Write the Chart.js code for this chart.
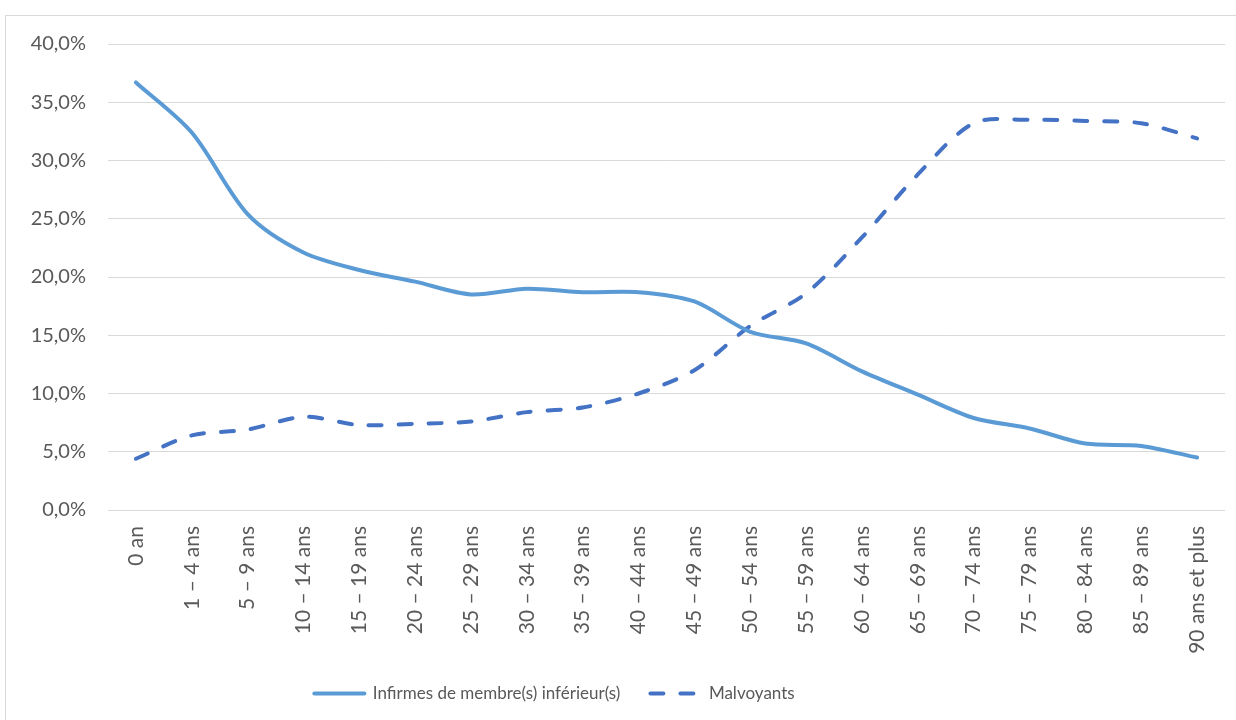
<!DOCTYPE html>
<html><head><meta charset="utf-8">
<script src="https://cdn.jsdelivr.net/npm/chart.js@4.4.0/dist/chart.umd.min.js"></script>
<style>html,body{margin:0;padding:0;background:#fff;}#wrap{position:relative;width:1236px;height:720px;}</style>
</head><body><div id="wrap"><canvas id="c" width="1236" height="720"></canvas></div>
<script>
const categories = ["0 an","1 – 4 ans","5 – 9 ans","10 – 14 ans","15 – 19 ans","20 – 24 ans","25 – 29 ans","30 – 34 ans","35 – 39 ans","40 – 44 ans","45 – 49 ans","50 – 54 ans","55 – 59 ans","60 – 64 ans","65 – 69 ans","70 – 74 ans","75 – 79 ans","80 – 84 ans","85 – 89 ans","90 ans et plus"];
const infirmes = [36.7,32.4,25.4,22.1,20.6,19.6,18.5,19.0,18.7,18.7,17.9,15.3,14.3,11.9,9.9,7.9,7.0,5.7,5.5,4.5];
const malvoyants = [4.4,6.4,6.9,8.0,7.3,7.4,7.6,8.4,8.8,10.0,12.0,15.8,18.6,23.4,28.8,33.2,33.5,33.4,33.2,31.9];
const yTicks = [0,5,10,15,20,25,30,35,40];

const FONT = "Lato, 'Open Sans', sans-serif";
const borderPlugin = {
  id: 'frame',
  beforeDraw(chart) {
    const ctx = chart.ctx;
    ctx.save();
    ctx.fillStyle = '#fff';
    ctx.fillRect(0,0,chart.width,chart.height);
    ctx.strokeStyle = '#D9D9D9';
    ctx.lineWidth = 1;
    ctx.strokeRect(5.5, 15.5, 1240, 720);
    ctx.restore();
  }
};
const legendShift = {
  id: 'legendShift',
  afterLayout(chart) {
    if (chart.legend) { chart.legend.left -= 68; chart.legend.right -= 68; }
  }
};
new Chart(document.getElementById('c'), {
  type: 'line',
  data: {
    labels: categories,
    datasets: [
      { label: 'Infirmes de membre(s) inférieur(s)', data: infirmes, borderColor: '#5B9BD5', backgroundColor: '#5B9BD5', borderWidth: 4, pointRadius: 0, tension: 0.3, borderCapStyle: 'round', borderJoinStyle: 'round' },
      { label: 'Malvoyants', data: malvoyants, borderColor: '#4472C4', backgroundColor: '#4472C4', borderWidth: 4, pointRadius: 0, tension: 0.3, borderDash: [13,17], borderCapStyle: 'round', borderJoinStyle: 'round' }
    ]
  },
  options: {
    responsive: false,
    animation: false,
    layout: { padding: { left: 20, right: 11, top: 44, bottom: 8 } },
    plugins: {
      legend: {
        position: 'bottom',
        labels: {
          usePointStyle: true, pointStyle: 'line', pointStyleWidth: 50, boxHeight: 4, padding: 30,
          color: '#595959', font: { family: FONT, size: 17 },
          generateLabels(chart) {
            return chart.data.datasets.map((ds, i) => ({
              text: ds.label, datasetIndex: i, hidden: false,
              fillStyle: ds.borderColor, strokeStyle: ds.borderColor,
              lineWidth: 4, lineDash: ds.borderDash || [], lineCap: 'round',
              pointStyle: 'line', fontColor: '#595959'
            }));
          }
        }
      },
      tooltip: { enabled: false }
    },
    scales: {
      x: {
        offset: true,
        grid: { display: false, offset: true },
        border: { display: false },
        ticks: { minRotation: 90, maxRotation: 90, autoSkip: false, color: '#595959', font: { family: FONT, size: 21 }, padding: 8 },
        afterFit(s) { s.height = 145; }
      },
      y: {
        min: 0, max: 40,
        afterBuildTicks(s) { s.ticks = yTicks.map(v => ({ value: v })); },
        grid: { color: '#D9D9D9', drawTicks: false, lineWidth: 1 },
        border: { display: false },
        ticks: { color: '#595959', font: { family: FONT, size: 20 }, padding: 22, callback: v => v.toFixed(1).replace('.', ',') + '%' },
        afterFit(s) { s.width = 88; }
      }
    }
  },
  plugins: [borderPlugin, legendShift]
});
</script></body></html>
